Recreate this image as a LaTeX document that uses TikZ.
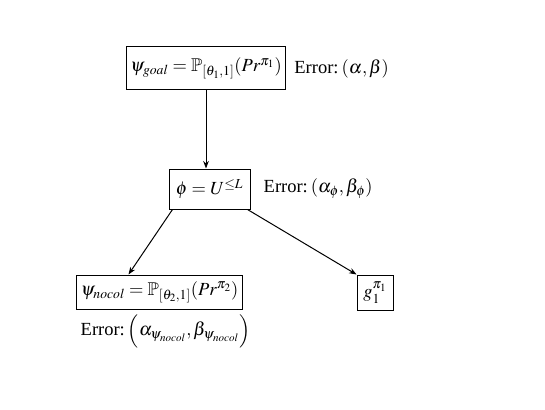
\documentclass[tikz,border=0pt]{standalone}
\usepackage{amsmath,amssymb}
\usepackage{mathptmx}
\usepackage{fontspec}
\setmainfont{Liberation Serif}
\usetikzlibrary{arrows.meta, positioning}

\begin{document}
\begin{tikzpicture}[x=1pt, y=-1pt, every node/.style={font=\fontsize{18.5}{22}\selectfont},
    formula/.style={draw, line width=1pt, inner sep=4pt},
    errlabel/.style={inner sep=0pt}]
  \useasboundingbox[fill=white] (0,0) rectangle (545,409);
  \node[formula, minimum width=158pt, minimum height=43pt] (goal) at (206,68.5) {$\psi_{goal} = \mathbb{P}_{[\theta_1,1]}(Pr^{\pi_1})$};
  \node[errlabel, right=8pt of goal] (goalerr) {Error:\,$(\alpha,\beta)$};
  \node[formula, minimum width=81pt, minimum height=40pt] (phi) at (209.5,189) {$\phi = U^{\leq L}$};
  \node[errlabel, right=13pt of phi] (phierr) {Error:\,$(\alpha_\phi,\beta_\phi)$};
  \node[formula, minimum width=165pt, minimum height=34pt] (nocol) at (159.5,292) {$\psi_{nocol} = \mathbb{P}_{[\theta_2,1]}(Pr^{\pi_2})$};
  \node[errlabel, below=5pt of nocol, xshift=6pt] (nocolerr) {Error:\,$\Bigl(\alpha_{\psi_{nocol}},\beta_{\psi_{nocol}}\Bigr)$};
  \node[formula, minimum width=36pt, minimum height=35pt] (g) at (375,292.5) {$g_1^{\pi_1}$};
  \draw[line width=1pt, -{Stealth}] (goal.south) -- (goal.south |- phi.north);
  \draw[line width=1pt, -{Stealth}] ([xshift=4pt]phi.south west) -- ([xshift=-31pt]nocol.north);
  \draw[line width=1pt, -{Stealth}] ([xshift=-3pt]phi.south east) -- (g.north west);
\end{tikzpicture}
\end{document}
